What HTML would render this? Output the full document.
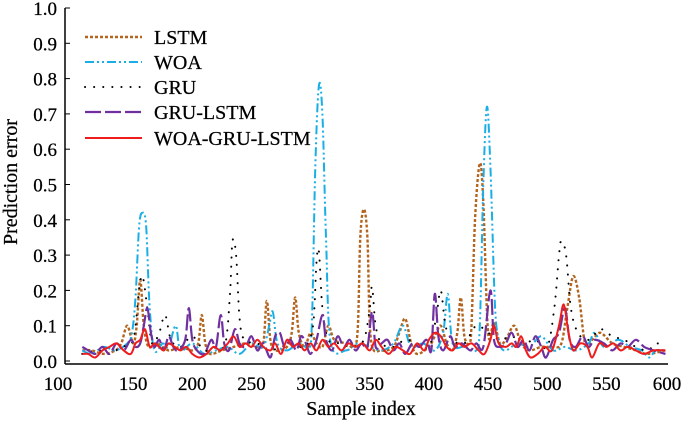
<!DOCTYPE html>
<html><head><meta charset="utf-8"><style>
html,body{margin:0;padding:0;background:#fff;}
svg text{font-family:"Liberation Serif",serif;fill:#000;stroke:#000;stroke-width:0.25;}
</style></head><body>
<svg id="chart" width="685" height="422" viewBox="0 0 685 422" xmlns="http://www.w3.org/2000/svg">
<g id="axes"></g>
<g id="series"></g>
<g id="legend"></g>
<text transform="translate(17,182) rotate(-90)" text-anchor="middle" font-size="20">Prediction error</text>
<text x="361" y="415" text-anchor="middle" font-size="20">Sample index</text>
</svg>
<script>
const xTicks=[100,150,200,250,300,350,400,450,500,550,600];
const yTicks=[0.0,0.1,0.2,0.3,0.4,0.5,0.6,0.7,0.8,0.9,1.0];
const seriesNames=["LSTM","WOA","GRU","GRU-LSTM","WOA-GRU-LSTM"];
const lstm=[[107,.03],[115,.03],[125,.02],[135,.03],[140,.05],[145,.1],[150,.05],[153,.1],[156,.23],[159,.1],[163,.04],[170,.05],[180,.03],[190,.04],[200,.03],[205,.05],[208,.13],[211,.05],[215,.02],[225,.03],[235,.04],[245,.05],[255,.04],[260,.05],[263,.17],[266,.06],[270,.03],[280,.04],[284,.08],[287,.18],[290,.08],[295,.04],[300,.08],[305,.05],[310,.04],[315,.1],[320,.06],[330,.05],[337,.04],[340,.1],[342,.35],[345,.43],[348,.35],[351,.06],[360,.03],[370,.04],[375,.08],[380,.12],[385,.05],[390,.02],[400,.04],[405,.07],[410,.1],[415,.05],[420,.03],[424,.08],[427,.18],[430,.07],[434,.05],[436,.1],[439,.4],[443,.56],[446,.45],[450,.08],[455,.11],[460,.05],[465,.06],[472,.1],[478,.05],[485,.03],[495,.04],[505,.04],[512,.05],[517,.15],[522,.24],[527,.18],[532,.05],[538,.06],[545,.08],[555,.05],[565,.04],[575,.03],[585,.02],[600,.03]];
const woa=[[107,.03],[115,.02],[125,.04],[135,.03],[145,.05],[149,.08],[152,.18],[155,.38],[158,.42],[161,.38],[164,.15],[168,.03],[175,.05],[180,.04],[186,.1],[190,.03],[200,.05],[210,.02],[220,.03],[230,.04],[240,.02],[250,.05],[260,.04],[265,.1],[268,.14],[272,.05],[280,.03],[290,.05],[298,.04],[301,.1],[304,.55],[307,.78],[310,.7],[313,.35],[317,.05],[330,.03],[340,.05],[350,.04],[360,.03],[370,.05],[378,.1],[385,.04],[395,.05],[405,.03],[412,.08],[416,.19],[420,.05],[430,.04],[440,.03],[443,.1],[446,.5],[449,.72],[452,.55],[456,.15],[460,.05],[465,.03],[475,.05],[485,.04],[495,.07],[505,.03],[515,.04],[525,.03],[535,.05],[540,.08],[548,.04],[560,.06],[570,.04],[580,.03],[586,.01],[592,.03],[600,.03]];
const gru=[[107,.02],[120,.03],[130,.02],[140,.04],[150,.06],[155,.2],[158,.24],[162,.15],[166,.05],[172,.08],[177,.13],[182,.06],[190,.04],[200,.07],[210,.03],[220,.04],[228,.05],[232,.2],[234,.34],[237,.3],[240,.12],[244,.06],[255,.05],[265,.03],[275,.04],[285,.05],[295,.04],[302,.1],[305,.28],[307,.31],[310,.15],[315,.06],[325,.05],[335,.04],[345,.06],[350,.15],[352,.21],[355,.1],[360,.05],[370,.04],[380,.06],[390,.05],[400,.04],[406,.12],[410,.2],[414,.1],[420,.06],[430,.05],[440,.1],[450,.08],[460,.06],[470,.07],[480,.05],[490,.06],[500,.04],[506,.15],[510,.3],[512,.34],[516,.3],[520,.15],[526,.08],[535,.06],[545,.09],[555,.07],[565,.06],[575,.04],[585,.03],[592,.05],[600,.04]];
const gruLstm=[[107,.04],[112,.03],[118,.02],[124,.04],[130,.02],[136,.05],[142,.03],[148,.06],[152,.04],[156,.05],[159,.1],[162,.15],[165,.08],[168,.04],[172,.06],[176,.03],[180,.07],[184,.04],[188,.03],[194,.06],[197,.15],[200,.06],[204,.03],[210,.02],[216,.06],[220,.04],[224,.13],[227,.05],[231,.03],[236,.09],[240,.05],[245,.04],[250,.07],[255,.03],[260,.05],[266,.01],[270,.07],[274,.08],[278,.04],[283,.06],[288,.03],[292,.07],[296,.05],[300,.02],[305,.06],[310,.13],[313,.06],[318,.03],[323,.07],[328,.04],[333,.06],[338,.03],[343,.05],[348,.04],[352,.14],[355,.04],[360,.05],[365,.06],[370,.03],[375,.05],[380,.02],[386,.05],[392,.04],[398,.06],[402,.03],[405,.19],[408,.07],[412,.03],[418,.07],[422,.04],[428,.05],[435,.03],[440,.05],[446,.04],[452,.2],[455,.06],[460,.04],[465,.05],[470,.08],[475,.04],[480,.06],[485,.03],[490,.07],[495,.04],[499,.01],[505,.06],[510,.08],[515,.15],[519,.06],[524,.04],[530,.07],[535,.04],[540,.06],[548,.05],[555,.03],[562,.05],[568,.04],[575,.06],[582,.04],[590,.03],[600,.02]];
const woaGruLstm=[[107,.02],[112,.02],[118,.01],[124,.03],[130,.04],[136,.05],[142,.03],[148,.02],[152,.05],[156,.06],[160,.09],[164,.04],[168,.05],[172,.04],[176,.03],[180,.05],[185,.04],[190,.03],[195,.04],[200,.02],[206,.01],[212,.02],[218,.04],[224,.03],[230,.05],[235,.07],[240,.04],[245,.05],[250,.04],[255,.06],[260,.04],[266,.03],[270,.05],[275,.02],[280,.06],[285,.04],[290,.05],[295,.03],[300,.05],[305,.03],[310,.06],[315,.04],[320,.05],[326,.03],[332,.05],[338,.04],[344,.05],[350,.03],[355,.06],[360,.04],[366,.02],[372,.04],[378,.03],[384,.02],[390,.05],[396,.03],[400,.06],[405,.08],[410,.07],[415,.04],[420,.03],[425,.05],[430,.04],[436,.05],[442,.03],[447,.02],[452,.06],[455,.1],[459,.05],[465,.04],[470,.05],[474,.04],[478,.07],[482,.03],[486,.01],[492,.02],[498,.04],[504,.03],[510,.1],[514,.16],[518,.08],[522,.03],[528,.05],[534,.04],[538,.01],[544,.05],[550,.04],[556,.05],[562,.03],[568,.04],[575,.03],[582,.02],[590,.03],[600,.03]];

const NS="http://www.w3.org/2000/svg";
function xs(v){return 74+(v-100)*1.183;}
function ys(v){return 361-v*353;}
function mk(tag,attrs,parent){const e=document.createElementNS(NS,tag);for(const k in attrs)e.setAttribute(k,attrs[k]);parent.appendChild(e);return e;}
const axes=document.getElementById('axes');
const yAxis=mk('line',{x1:65,y1:8,x2:65,y2:364,stroke:'#000','stroke-width':1.5},axes);


const xAxis=mk('line',{x1:65,y1:364,x2:668,y2:364,stroke:'#000','stroke-width':1.5},axes);


yTicks.forEach(t=>{
  const l=mk('line',{x1:65,y1:ys(t),x2:70,y2:ys(t),stroke:'#000','stroke-width':1},axes);
  
  
  const tx=mk('text',{x:57,y:ys(t)+7,'text-anchor':'end','font-size':19},axes);
  tx.textContent=t.toFixed(1);
  
  
});
xTicks.forEach(t=>{
  const tx=mk('text',{x:t===100?58:(t===600?667:xs(t)),y:390,'text-anchor':'middle','font-size':19},axes);
  tx.textContent=t;
  
  
});
function pathD(pts){
  const p=pts.map(d=>[xs(d[0]),ys(Math.max(0,d[1]))]);
  let s='M'+p[0][0].toFixed(1)+','+p[0][1].toFixed(1);
  for(let i=0;i<p.length-1;i++){
    const p0=p[i-1]||p[i],p1=p[i],p2=p[i+1],p3=p[i+2]||p[i+1];
    const c1=[p1[0]+(p2[0]-p0[0])/6,p1[1]+(p2[1]-p0[1])/6];
    const c2=[p2[0]-(p3[0]-p1[0])/6,p2[1]-(p3[1]-p1[1])/6];
    s+='C'+c1[0].toFixed(1)+','+Math.min(361,c1[1]).toFixed(1)+' '+c2[0].toFixed(1)+','+Math.min(361,c2[1]).toFixed(1)+' '+p2[0].toFixed(1)+','+p2[1].toFixed(1);
  }
  return s;
}
const styles=[
 {data:lstm,stroke:'#b3651f',w:2.4,dash:'3 2',cap:'butt',name:'lstm-line'},
 {data:woa,stroke:'#1aaee6',w:2,dash:'9 3 2 3 2 3',cap:'butt',name:'woa-line'},
 {data:gru,stroke:'#000',w:2,dash:'0.1 9',cap:'round',name:'gru-line'},
 {data:gruLstm,stroke:'#7030a0',w:2.2,dash:'16 4',cap:'butt',name:'gru-lstm-line'},
 {data:woaGruLstm,stroke:'#ee1c1c',w:2,dash:'none',cap:'butt',name:'woa-gru-lstm-line'}
];
const sg=document.getElementById('series');
styles.forEach(s=>{
  const p=mk('path',{d:pathD(s.data),fill:'none',stroke:s.stroke,'stroke-width':s.w,'stroke-dasharray':s.dash,'stroke-linecap':s.cap},sg);
  
  
});
const lg=document.getElementById('legend');
const rowY=[37,62,87,112,138];
styles.forEach((s,i)=>{
  const l=mk('line',{x1:85,y1:rowY[i],x2:142,y2:rowY[i],stroke:s.stroke,'stroke-width':s.w,'stroke-dasharray':s.dash,'stroke-linecap':s.cap},lg);
  
  
  const t=mk('text',{x:154,y:rowY[i]+7,'font-size':20},lg);
  t.textContent=seriesNames[i];
  
  
});
</script>
</body></html>
